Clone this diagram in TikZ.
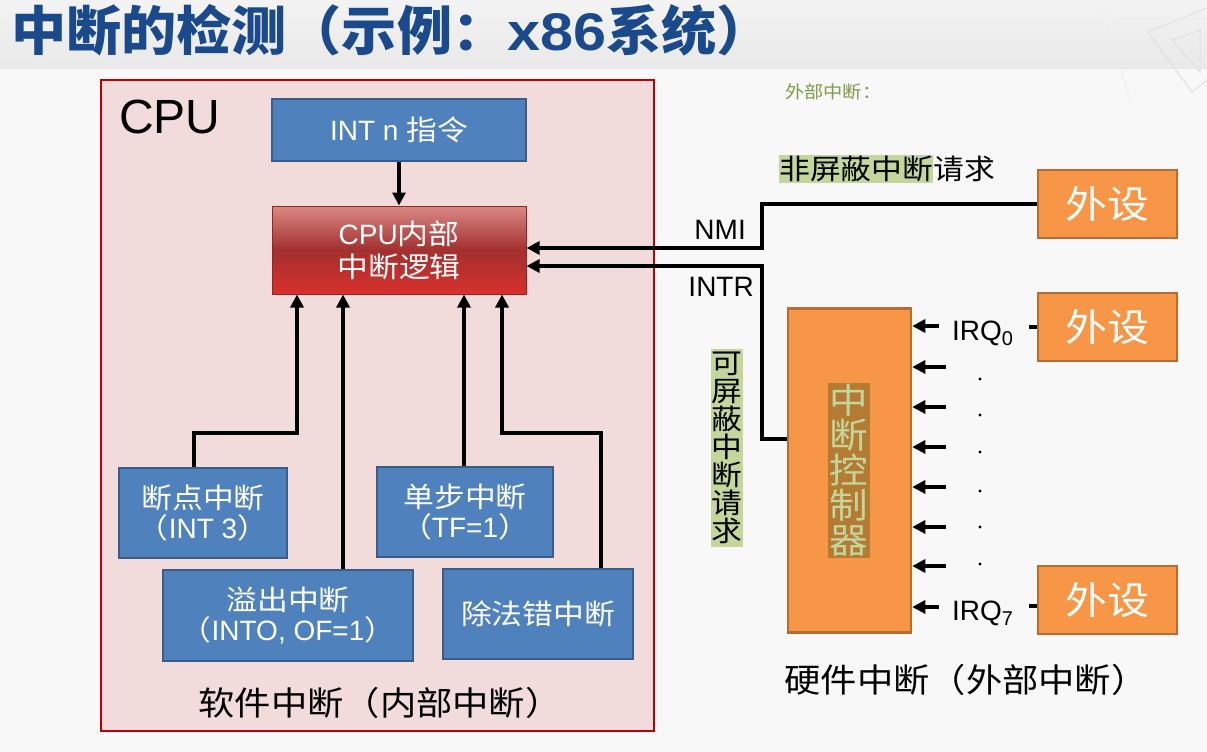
\documentclass[tikz,border=0pt]{standalone}
\usepackage{fontspec}
\setmainfont{Liberation Sans}
\newfontfamily\zhfont[FakeStretch=1.1]{Noto Sans CJK SC}
\newfontfamily\titlefont[FakeStretch=1.04]{Noto Sans CJK SC}
\usetikzlibrary{arrows.meta,calc}
\newcommand{\fsz}[1]{\fontsize{#1}{#1}\selectfont}
\newcommand{\zh}[1]{{\zhfont #1}}
\definecolor{slidebg}{HTML}{F8F8F8}
\definecolor{bandtop}{HTML}{F3F3F3}
\definecolor{bandbot}{HTML}{E9E9E9}
\definecolor{titleblue}{HTML}{1B4A8C}
\definecolor{cpufill}{HTML}{F2DCDB}
\definecolor{cpuline}{HTML}{C00000}
\definecolor{boxblue}{HTML}{4F81BD}
\definecolor{boxblueline}{HTML}{385D8A}
\definecolor{devorange}{HTML}{F79646}
\definecolor{devline}{HTML}{B66D31}
\definecolor{hlgreen}{HTML}{C3D69B}
\definecolor{hlbrown}{HTML}{B57B33}
\definecolor{olivetext}{HTML}{7F9A48}
\definecolor{logictop}{HTML}{DA8986}
\definecolor{logicmid}{HTML}{A2302E}
\definecolor{logicbot}{HTML}{D8302C}
% green highlight behind part of a text line
\newcommand{\hlgr}[1]{{\setlength{\fboxsep}{0pt}\colorbox{hlgreen}{\rule[-4pt]{0pt}{28pt}#1}}}

\begin{document}
\begin{tikzpicture}[x=1pt,y=-1pt,
  bluebox/.style={draw=boxblueline, fill=boxblue, line width=2pt, text=white,
    align=center, inner sep=0pt, font=\fsz{28}},
  devbox/.style={draw=devline, fill=devorange, line width=2.5pt, text=white,
    inner sep=0pt, minimum width=139pt, minimum height=68pt, font=\zhfont\fsz{38}},
  wire/.style={line width=3.5pt},
  arr/.style={wire, -{Triangle[length=13pt,width=13pt]}},
  lbl/.style={inner sep=0pt, font=\fsz{28}},
  dot/.style={circle, fill=black, inner sep=0pt, minimum size=3.2pt},
]
\useasboundingbox (0,0) rectangle (1207,752);

% slide background and title band
\fill[slidebg] (0,0) rectangle (1207,752);
\shade[top color=bandtop, bottom color=bandbot] (0,0) rectangle (1207,69);

% faint set square in the upper right corner
\begin{scope}[draw=black!12, line width=1pt]
  \draw (1148,32) -- (1207,8);
  \draw (1148,32) -- (1192,92) -- (1207,80);
  \draw (1172,40) -- (1200,30) -- (1200,72) -- cycle;
  \draw[black!7] (1100,0) -- (1130,100);
  \draw[black!7] (1120,20) -- (1207,20);
  \draw[black!7] (1105,55) -- (1150,55);
\end{scope}

% title
\node[anchor=base west, inner sep=0pt, text=titleblue] (title) at (11,51)
  {\titlefont\bfseries\fsz{53}中断的检测（示例：{\rmfamily\bfseries\scalebox{1.12}[1]{x86}}系统）};

\node[anchor=west, inner sep=0pt, text=olivetext] (exthint) at (785,92)
  {\zhfont\fsz{17.5}外部中断：};

% CPU frame
\draw[draw=cpuline, fill=cpufill, line width=2.5pt] (101,80) rectangle (654,731);
\node[anchor=base west, inner sep=0pt, font=\fsz{48}] (cpulbl) at (119,133) {CPU};

% boxes inside the CPU
\node[bluebox, minimum width=254pt, minimum height=62pt] (intn) at (399,129.5)
  {INT n \zh{指令}};
\node[draw=logicbot!70!black, line width=1pt,
      top color=logictop, bottom color=logicbot, middle color=logicmid,
      text=white, align=center, inner sep=0pt, font=\fsz{28},
      minimum width=254pt, minimum height=88pt] (logic) at (399,250)
  {CPU\zh{内部}\\[5pt]\zh{中断逻辑}};
\node[bluebox, minimum width=168pt, minimum height=90pt] (brk) at (203,513)
  {\zh{断点中断}\\[2pt]\zh{（}INT 3\zh{）}};
\node[bluebox, minimum width=176pt, minimum height=90pt] (step) at (465,512)
  {\zh{单步中断}\\[2pt]\zh{（}TF=1\zh{）}};
\node[bluebox, minimum width=250pt, minimum height=91pt] (ovf) at (288,615.5)
  {\zh{溢出中断}\\[2pt]\zh{（}INTO, OF=1\zh{）}};
\node[bluebox, minimum width=190pt, minimum height=90pt] (div) at (538,614)
  {\zh{除法错中断}};

\node[inner sep=0pt] (swlbl) at (380,703) {\zhfont\fsz{33}软件中断（内部中断）};

% connectors inside the CPU
\coordinate (jL) at (297,433);
\coordinate (jR) at (502,433);
\draw[arr] (intn.south) -- (logic.north);
\draw[arr] ([xshift=-9pt]brk.north) |- (jL) -- (jL |- logic.south);
\draw[arr] ([xshift=55pt]ovf.north) -- ([xshift=55pt]ovf.north |- logic.south);
\draw[arr] ([xshift=-1pt]step.north) -- ([xshift=-1pt]step.north |- logic.south);
\draw[arr] ([xshift=63pt]div.north) |- (jR) -- (jR |- logic.south);

% peripherals and interrupt controller
\node[devbox] (dev1) at (1107.5,204) {外设};
\node[devbox] (dev2) at (1107.5,327) {外设};
\node[devbox] (dev3) at (1107.5,600) {外设};
\node[draw=devline, fill=devorange, line width=2.5pt, inner sep=0pt,
      minimum width=123pt, minimum height=324pt] (pic) at (849.5,470.5) {};
\node[fill=hlbrown, text=hlgreen, align=center, inner xsep=1.5pt, inner ysep=1.5pt,
      font=\zhfont\fsz{35}] (pictext) at (849,470.5)
  {\baselineskip=37.2pt 中\\断\\控\\制\\器};

% NMI and INTR lines
\coordinate (bend) at (762,0);
\draw[arr] (dev1.west) -- (dev1.west -| bend) |- ([yshift=2pt]logic.east);
\draw[arr] ([yshift=31.5pt]pic.west) -- ([yshift=31.5pt]pic.west -| bend)
  |- ([yshift=-16pt]logic.east);
\node[lbl, anchor=base east] (nmi) at (746,239) {NMI};
\node[lbl, anchor=base east] (intr) at (754,296) {INTR};

\node[anchor=base west, inner sep=0pt, font=\zhfont\fsz{28}] (nmireq) at (779,179)
  {\hlgr{非屏蔽中断}请求};
\node[fill=hlgreen, align=center, inner xsep=1pt, inner ysep=3pt,
      font=\zhfont\fsz{28}] (intreq) at (727,448)
  {\baselineskip=31pt 可\\屏\\蔽\\中\\断\\请\\求};

% IRQ lines into the controller
\foreach \i/\y/\x in {0/326/939, 1/367/946, 2/407/946, 3/447/946,
                     4/487/946, 5/527/946, 6/566/946, 7/607/939}{
  \coordinate (q\i) at (\x,\y);
  \draw[arr] (q\i) -- (q\i -| pic.east);
}
\node[lbl, anchor=base west] (irq0) at (952,340)
  {IRQ\raisebox{-5pt}{\fsz{20}0}};
\node[lbl, anchor=base west] (irq7) at (952,620)
  {IRQ\raisebox{-5pt}{\fsz{20}7}};
\draw[wire] (dev2.west) -- ([xshift=-8pt]dev2.west);
\draw[wire] ([yshift=-6pt]dev3.west) -- ([xshift=-8pt,yshift=-6pt]dev3.west);
\foreach \y [count=\k] in {379,415,452,491,527,564}
  \node[dot] (d\k) at (980,\y) {};

\node[inner sep=0pt] (hwlbl) at (966,680) {\zhfont\fsz{33}硬件中断（外部中断）};
\end{tikzpicture}
\end{document}
